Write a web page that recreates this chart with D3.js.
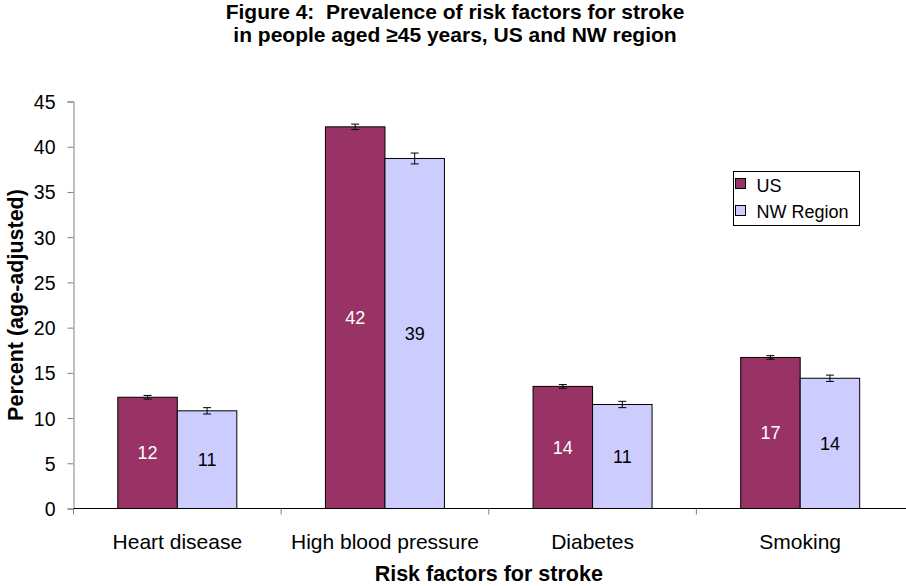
<!DOCTYPE html>
<html><head><meta charset="utf-8">
<script src="https://cdn.jsdelivr.net/npm/d3@7"></script>
<style>body{margin:0;background:#fff}svg{font-family:Arial,"Liberation Sans",sans-serif}</style>
</head><body><svg id="c" width="906" height="586"></svg>
<script>
const categories = ["Heart disease","High blood pressure","Diabetes","Smoking"];
const seriesNames = ["US","NW Region"];
const usValues = [12.3, 42.2, 13.5, 16.7];
const nwValues = [10.8, 38.7, 11.5, 14.4];
const usErr = [0.2, 0.3, 0.2, 0.2];
const nwErr = [0.35, 0.6, 0.35, 0.35];
const usLabels = ["12","42","14","17"];
const nwLabels = ["11","39","11","14"];
const yTicks = [0,5,10,15,20,25,30,35,40,45];
const colors = ["#993366","#CCCCFF"];

const svg = d3.select("#c");
const mLeft = 73.5, mRight = 904, mTop = 101.5, mBottom = 508.5;
const x = d3.scaleBand().domain(categories).range([mLeft, mRight]).paddingInner(0).paddingOuter(0);
const y = d3.scaleLinear().domain([0,45]).range([mBottom, mTop]);
const barW = 59.5;
const FONT = "Arial, Liberation Sans, sans-serif";

const title = svg.append("text").attr("x",455).attr("text-anchor","middle").attr("font-weight","bold").attr("font-size",21).style("white-space","pre");
title.append("tspan").attr("x",455).attr("y",19).text("Figure 4:  Prevalence of risk factors for stroke");
title.append("tspan").attr("x",455).attr("y",42).text("in people aged \u226545 years, US and NW region");

// y axis
const ya = svg.append("g").attr("transform",`translate(${mLeft},0)`).call(d3.axisLeft(y).tickValues(yTicks).tickSize(6).tickPadding(12));
ya.select(".domain").attr("stroke","#808080");
ya.selectAll(".tick line").attr("stroke","#808080");
ya.selectAll("text").attr("font-size",19.5).attr("font-family",FONT).attr("fill","#000").attr("dy","0.36em");

// x axis
const xa = svg.append("g").attr("transform",`translate(0,${mBottom})`).call(d3.axisBottom(x).tickSize(0).tickPadding(0));
xa.select(".domain").attr("stroke","#000").attr("d",`M${mLeft},0H906`);
xa.selectAll("text").attr("font-size",21).attr("font-family",FONT).attr("fill","#000").attr("dy",null).attr("y",40);
const bounds = categories.map(c=>x(c));
svg.append("g").selectAll("line").data(bounds).join("line")
  .attr("x1",d=>d).attr("x2",d=>d).attr("y1",mBottom).attr("y2",mBottom+6).attr("stroke","#808080");

const series = [
  {vals:usValues, err:usErr, lab:usLabels, off:-barW, color:colors[0], tc:"#fff"},
  {vals:nwValues, err:nwErr, lab:nwLabels, off:0, color:colors[1], tc:"#000"}
];
series.forEach(s=>{
  const g = svg.append("g");
  categories.forEach((c,i)=>{
    const cx = x(c)+x.bandwidth()/2 + s.off;
    g.append("rect").attr("x",cx).attr("y",y(s.vals[i])).attr("width",barW).attr("height",y(0)-y(s.vals[i]))
      .attr("fill",s.color).attr("stroke","#000").attr("stroke-width",1);
    const mx = cx+barW/2;
    const y1 = y(s.vals[i]+s.err[i]), y2 = y(s.vals[i]-s.err[i]);
    g.append("line").attr("x1",mx).attr("x2",mx).attr("y1",y1).attr("y2",y2).attr("stroke","#000");
    g.append("line").attr("x1",mx-4).attr("x2",mx+4).attr("y1",y1).attr("y2",y1).attr("stroke","#000");
    g.append("line").attr("x1",mx-4).attr("x2",mx+4).attr("y1",y2).attr("y2",y2).attr("stroke","#000");
    g.append("text").attr("x",mx).attr("y",(y(s.vals[i])+y(0))/2+6.5).attr("text-anchor","middle")
      .attr("font-size",18).attr("fill",s.tc).text(s.lab[i]);
  });
});

// axis titles
svg.append("text").attr("transform",`translate(23,${(mTop+mBottom)/2}) rotate(-90)`).attr("text-anchor","middle").attr("font-weight","bold").attr("font-size",21.5).text("Percent (age-adjusted)");
svg.append("text").attr("x",(mLeft+mRight)/2).attr("y",581).attr("text-anchor","middle").attr("font-weight","bold").attr("font-size",21.5).text("Risk factors for stroke");

// legend
const lg = svg.append("g").attr("transform","translate(733.5,171.5)");
lg.append("rect").attr("width",126).attr("height",54).attr("fill","#fff").attr("stroke","#000");
seriesNames.forEach((n,i)=>{
  lg.append("rect").attr("x",2).attr("y",7+i*27).attr("width",10).attr("height",10).attr("fill",colors[i]).attr("stroke","#000");
  lg.append("text").attr("x",23).attr("y",20+i*26.5).attr("font-size",18).text(n);
});
</script></body></html>
